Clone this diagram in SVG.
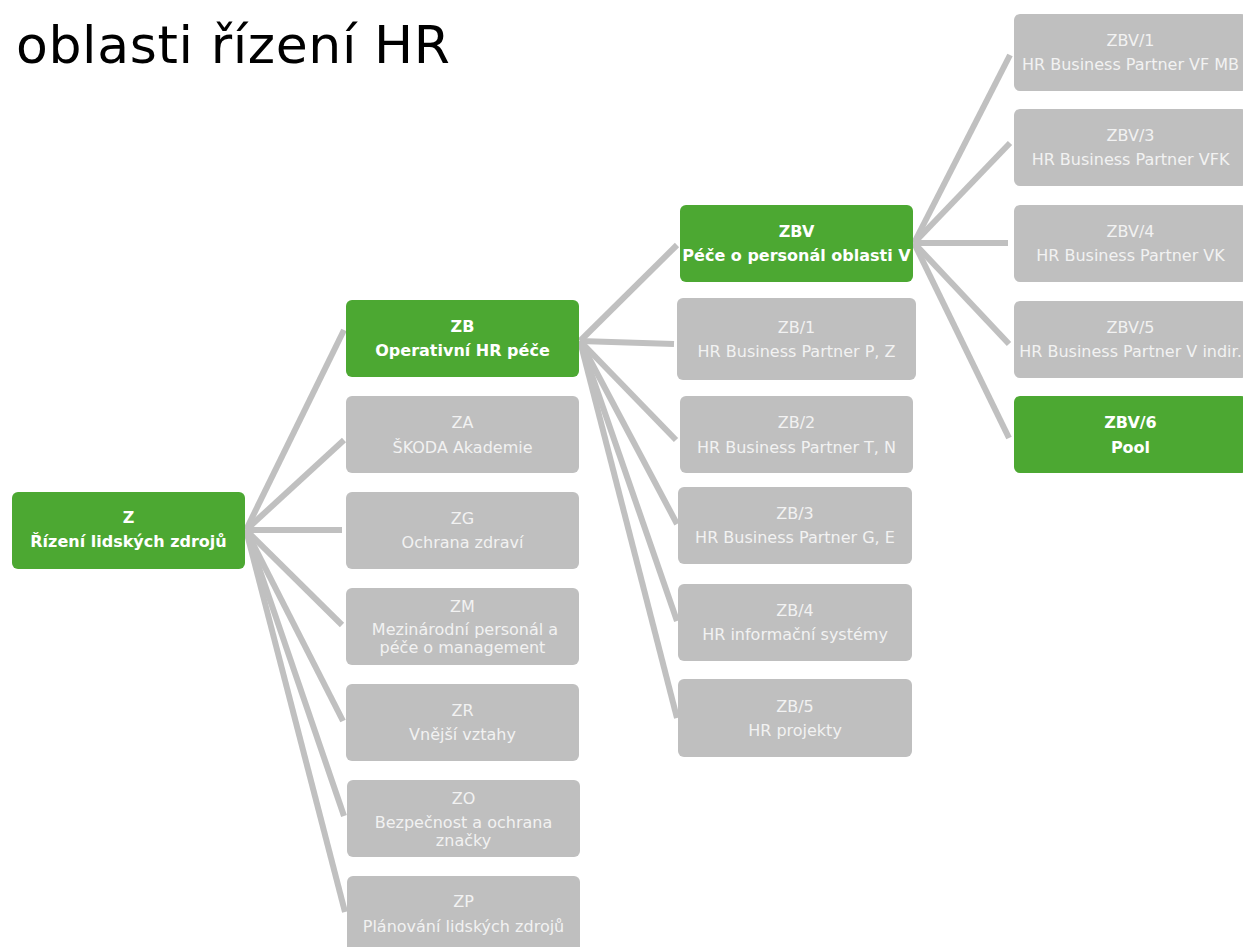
<svg xmlns="http://www.w3.org/2000/svg" width="1243" height="947" viewBox="0 0 1243 947">
<style>
.g rect{fill:#BFBFBF}
.k rect{fill:#4CA832}
.g text{fill:#F2F2F2;font-family:"DejaVu Sans",Verdana,sans-serif;font-size:16px;text-anchor:middle}
.k text{fill:#FFFFFF;font-family:"DejaVu Sans",Verdana,sans-serif;font-size:16px;font-weight:bold;text-anchor:middle}
#connectors line{stroke:#C0C0C0;stroke-width:6;stroke-linecap:butt}
.title{font-family:"DejaVu Sans",Verdana,sans-serif;font-size:52px;fill:#000}
</style>
<rect width="1243" height="947" fill="#FFFFFF"/>
<text class="title" x="16" y="63" textLength="434" lengthAdjust="spacing">oblasti řízení HR</text>
<g id="connectors">
<line x1="246" y1="530" x2="344" y2="330"/>
<line x1="246" y1="530" x2="344" y2="440"/>
<line x1="246" y1="530" x2="342" y2="530"/>
<line x1="246" y1="530" x2="342" y2="625"/>
<line x1="246" y1="530" x2="343" y2="721"/>
<line x1="246" y1="530" x2="344" y2="816"/>
<line x1="246" y1="530" x2="345" y2="912"/>
<line x1="580" y1="341" x2="677" y2="245"/>
<line x1="580" y1="341" x2="674" y2="344"/>
<line x1="580" y1="341" x2="676" y2="440"/>
<line x1="580" y1="341" x2="677" y2="524"/>
<line x1="580" y1="341" x2="677" y2="621"/>
<line x1="580" y1="341" x2="677" y2="718"/>
<line x1="914" y1="243" x2="1010" y2="55"/>
<line x1="914" y1="243" x2="1010" y2="143"/>
<line x1="914" y1="243" x2="1008" y2="243"/>
<line x1="914" y1="243" x2="1009" y2="344"/>
<line x1="914" y1="243" x2="1009" y2="438"/>
</g>
<g id="Z" class="k"><rect x="12" y="492" width="233" height="77" rx="6"/><text x="128.5" y="523">Z</text><text x="128.5" y="547">Řízení lidských zdrojů</text></g>
<g id="ZB" class="k"><rect x="346" y="300" width="233" height="77" rx="6"/><text x="462.5" y="332">ZB</text><text x="462.5" y="356">Operativní HR péče</text></g>
<g id="ZA" class="g"><rect x="346" y="396" width="233" height="77" rx="6"/><text x="462.5" y="428">ZA</text><text x="462.5" y="453">ŠKODA Akademie</text></g>
<g id="ZG" class="g"><rect x="346" y="492" width="233" height="77" rx="6"/><text x="462.5" y="524">ZG</text><text x="462.5" y="548">Ochrana zdraví</text></g>
<g id="ZM" class="g"><rect x="346" y="588" width="233" height="77" rx="6"/><text x="462.5" y="612">ZM</text><text x="465" y="635">Mezinárodní personál a</text><text x="462.5" y="653">péče o management</text></g>
<g id="ZR" class="g"><rect x="346" y="684" width="233" height="77" rx="6"/><text x="462.5" y="716">ZR</text><text x="462.5" y="740">Vnější vztahy</text></g>
<g id="ZO" class="g"><rect x="347" y="780" width="233" height="77" rx="6"/><text x="463.5" y="804">ZO</text><text x="463.5" y="828">Bezpečnost a ochrana</text><text x="463.5" y="846">značky</text></g>
<g id="ZP" class="g"><rect x="347" y="876" width="233" height="77" rx="6"/><text x="463.5" y="907">ZP</text><text x="463.5" y="932">Plánování lidských zdrojů</text></g>
<g id="ZBV" class="k"><rect x="680" y="205" width="233" height="77" rx="6"/><text x="796.5" y="237">ZBV</text><text x="796.5" y="261">Péče o personál oblasti V</text></g>
<g id="ZB1" class="g"><rect x="677" y="298" width="239" height="82" rx="6"/><text x="796.5" y="333">ZB/1</text><text x="796.5" y="357">HR Business Partner P, Z</text></g>
<g id="ZB2" class="g"><rect x="680" y="396" width="233" height="77" rx="6"/><text x="796.5" y="428">ZB/2</text><text x="796.5" y="453">HR Business Partner T, N</text></g>
<g id="ZB3" class="g"><rect x="678" y="487" width="234" height="77" rx="6"/><text x="795" y="519">ZB/3</text><text x="795" y="543">HR Business Partner G, E</text></g>
<g id="ZB4" class="g"><rect x="678" y="584" width="234" height="77" rx="6"/><text x="795" y="616">ZB/4</text><text x="795" y="640">HR informační systémy</text></g>
<g id="ZB5" class="g"><rect x="678" y="679" width="234" height="78" rx="6"/><text x="795" y="712">ZB/5</text><text x="795" y="736">HR projekty</text></g>
<g id="ZBV1" class="g"><rect x="1014" y="14" width="233" height="77" rx="6"/><text x="1130.5" y="46">ZBV/1</text><text x="1130.5" y="70">HR Business Partner VF MB</text></g>
<g id="ZBV3" class="g"><rect x="1014" y="109" width="233" height="77" rx="6"/><text x="1130.5" y="141">ZBV/3</text><text x="1130.5" y="165">HR Business Partner VFK</text></g>
<g id="ZBV4" class="g"><rect x="1014" y="205" width="233" height="77" rx="6"/><text x="1130.5" y="237">ZBV/4</text><text x="1130.5" y="261">HR Business Partner VK</text></g>
<g id="ZBV5" class="g"><rect x="1014" y="301" width="233" height="77" rx="6"/><text x="1130.5" y="333">ZBV/5</text><text x="1130.5" y="357">HR Business Partner V indir.</text></g>
<g id="ZBV6" class="k"><rect x="1014" y="396" width="233" height="77" rx="6"/><text x="1130.5" y="428">ZBV/6</text><text x="1130.5" y="453">Pool</text></g>
</svg>
